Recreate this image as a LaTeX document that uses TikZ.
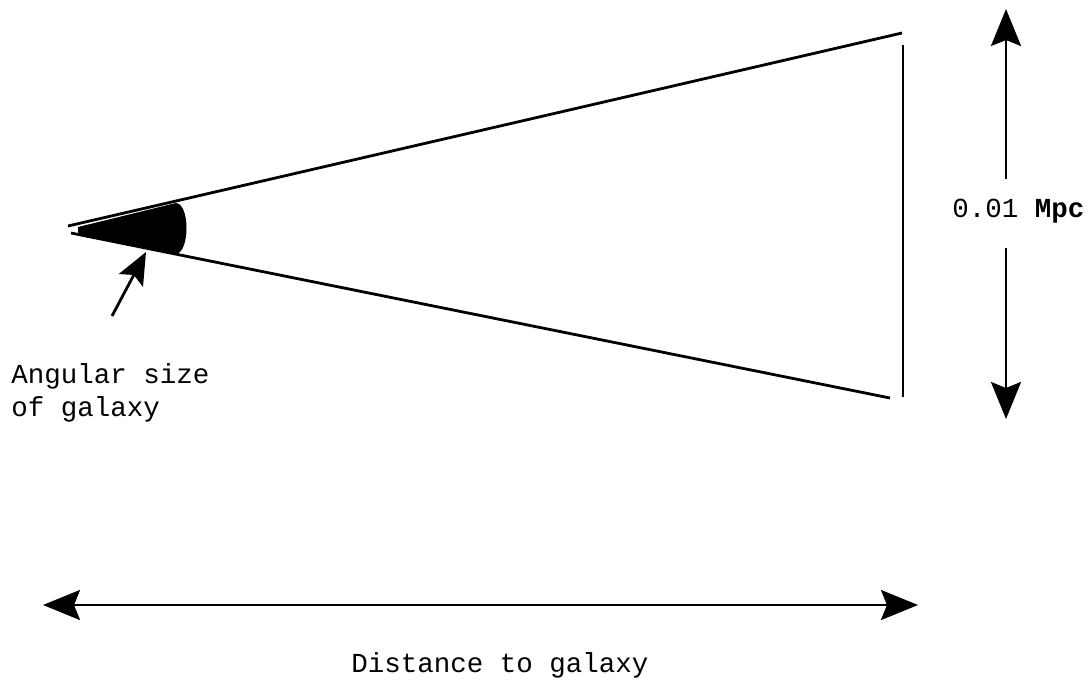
\documentclass[tikz,border=0pt]{standalone}
\usepackage{fontspec}
\setmonofont{Liberation Mono}
\usetikzlibrary{arrows.meta}

\tikzset{
  bigarrow/.style={line width=2.8pt, {Stealth[length=37pt,width=30pt,inset=6pt]}-{Stealth[length=37pt,width=30pt,inset=6pt]}},
  smallarrow/.style={line width=2.8pt, -{Stealth[length=32pt,width=27pt,inset=6pt]}},
  label/.style={font=\ttfamily\fontsize{27.5}{33}\selectfont, inner sep=0pt}
}

\begin{document}
\begin{tikzpicture}[x=1pt,y=-1pt,line width=2.8pt]
    \useasboundingbox (0,0) rectangle (1092,681);

    % Cone from the observer to the galaxy
    \coordinate (apexup) at (68,226);
    \coordinate (apexlow) at (71,233);
    \coordinate (endup) at (902,33);
    \coordinate (endlow) at (890,398);
    \draw (apexup) -- (endup);
    \draw (apexlow) -- (endlow);

    % Size of galaxy
    \draw (903,45) -- (903,397);

    % Shaded angle at the apex
    \fill (78,227) -- (176,203) .. controls (190,204) and (190,252) .. (176,254) -- (78,235) -- cycle;

    % Pointer to the angle
    \coordinate (tail) at (112,316);
    \coordinate (tip) at (146,252);
    \draw[smallarrow] (tail) -- (tip);
    \node[label, anchor=base west, align=left] (angtext) at (10,416) {Angular size\\of galaxy};

    % Vertical scale
    \node[label, anchor=base west] (size) at (951,217) {0.01 \textbf{Mpc}};
    \coordinate (sizetop) at (1006,9);
    \coordinate (sizebot) at (1006,419);
    \draw[-{Stealth[length=37pt,width=30pt,inset=6pt]}] (1006,179) -- (sizetop);
    \draw[-{Stealth[length=37pt,width=30pt,inset=6pt]}] (1006,248) -- (sizebot);

    % Distance arrow
    \coordinate (distleft) at (43,605);
    \coordinate (distright) at (918,605);
    \draw[bigarrow] (distleft) -- (distright);
    \node[label, anchor=base] (dist) at (500,672) {Distance to galaxy};
\end{tikzpicture}
\end{document}
